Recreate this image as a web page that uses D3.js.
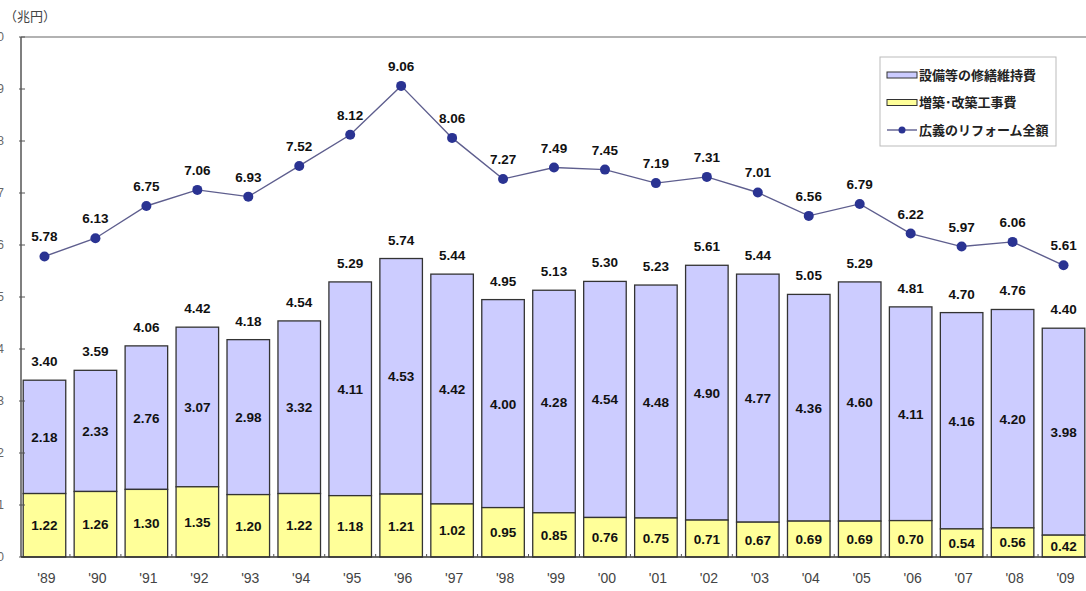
<!DOCTYPE html>
<html>
<head>
<meta charset="utf-8">
<script src="https://cdn.jsdelivr.net/npm/d3@7/dist/d3.min.js"></script>
<style>
  html, body { margin: 0; padding: 0; background: #fff; }
  svg { display: block; }
  text { font-family: "Liberation Sans", Arial, sans-serif; }
  .jp { font-family: "Noto Sans CJK JP", "Noto Sans", sans-serif; }
</style>
</head>
<body>
<svg id="chart" width="1086" height="591"></svg>
<script>
const years = ["'89","'90","'91","'92","'93","'94","'95","'96","'97","'98","'99","'00","'01","'02","'03","'04","'05","'06","'07","'08","'09"];
const extension = [1.22,1.26,1.30,1.35,1.20,1.22,1.18,1.21,1.02,0.95,0.85,0.76,0.75,0.71,0.67,0.69,0.69,0.70,0.54,0.56,0.42];
const repair = [2.18,2.33,2.76,3.07,2.98,3.32,4.11,4.53,4.42,4.00,4.28,4.54,4.48,4.90,4.77,4.36,4.60,4.11,4.16,4.20,3.98];
const totals = [3.40,3.59,4.06,4.42,4.18,4.54,5.29,5.74,5.44,4.95,5.13,5.30,5.23,5.61,5.44,5.05,5.29,4.81,4.70,4.76,4.40];
const broad = [5.78,6.13,6.75,7.06,6.93,7.52,8.12,9.06,8.06,7.27,7.49,7.45,7.19,7.31,7.01,6.56,6.79,6.22,5.97,6.06,5.61];
const yTicks = [0,1,2,3,4,5,6,7,8,9,10];
const unitLabel = "（兆円）";
const legendLabels = ["設備等の修繕維持費","増築･改築工事費","広義のリフォーム全額"];

const svg = d3.select("#chart");
const colRepair = "#ccccff", colExt = "#ffff99", lineCol = "#5e5e8e", dotCol = "#2a3392";

const x = d3.scaleBand().domain(years).range([19, 1089]).paddingInner(0.165).paddingOuter(0.0825);
const y = d3.scaleLinear().domain([0, 10]).range([557, 37]);
const axisX = 21;

// top frame line
svg.append("line").attr("x1", axisX).attr("x2", 1086).attr("y1", y(10)).attr("y2", y(10))
  .attr("stroke", "#999").attr("stroke-width", 1.5);

// unit label
svg.append("text").attr("class", "jp").attr("x", 4).attr("y", 21).attr("font-size", 13).attr("fill", "#444").text(unitLabel);

// y tick labels (clipped at the left edge, as in the original)
svg.append("g").selectAll("text").data(yTicks).join("text")
  .attr("x", 4).attr("y", d => y(d) + 4).attr("text-anchor", "end")
  .attr("font-size", 12).attr("fill", "#666").text(d => d);

// stacked bars
const g = svg.append("g");
years.forEach((yr, i) => {
  const bx = x(yr), bw = x.bandwidth();
  g.append("rect").attr("x", bx).attr("width", bw)
    .attr("y", y(totals[i])).attr("height", y(extension[i]) - y(totals[i]))
    .attr("fill", colRepair).attr("stroke", "#333").attr("stroke-width", 1.3);
  g.append("rect").attr("x", bx).attr("width", bw)
    .attr("y", y(extension[i])).attr("height", y(0) - y(extension[i]))
    .attr("fill", colExt).attr("stroke", "#333").attr("stroke-width", 1.3);
});

// y axis
svg.append("line").attr("x1", axisX).attr("x2", axisX).attr("y1", y(10)).attr("y2", y(0))
  .attr("stroke", "#555").attr("stroke-width", 1.5);
svg.append("g").selectAll("line").data(yTicks).join("line")
  .attr("x1", 19).attr("x2", 25).attr("y1", d => y(d)).attr("y2", d => y(d))
  .attr("stroke", "#555").attr("stroke-width", 1);
// x axis
svg.append("line").attr("x1", axisX).attr("x2", 1086).attr("y1", y(0)).attr("y2", y(0))
  .attr("stroke", "#333").attr("stroke-width", 1.5);
svg.append("g").selectAll("line").data(years.slice(1)).join("line")
  .attr("x1", d => x(d) - x.step() * 0.0825).attr("x2", d => x(d) - x.step() * 0.0825)
  .attr("y1", y(0) - 3).attr("y2", y(0)).attr("stroke", "#555").attr("stroke-width", 1);

// x labels
svg.append("g").selectAll("text").data(years).join("text")
  .attr("x", d => x(d) + x.bandwidth() / 2 + 2).attr("y", 583).attr("text-anchor", "middle")
  .attr("font-size", 14).attr("fill", "#444").text(d => d);

// bar labels
const lab = svg.append("g").attr("font-size", 13.5).attr("font-weight", "bold").attr("fill", "#111").attr("text-anchor", "middle");
years.forEach((yr, i) => {
  const cx = x(yr) + x.bandwidth() / 2;
  lab.append("text").attr("x", cx).attr("y", (y(0) + y(extension[i])) / 2 + 5).text(extension[i].toFixed(2));
  lab.append("text").attr("x", cx).attr("y", (y(extension[i]) + y(totals[i])) / 2 + 5).text(repair[i].toFixed(2));
  lab.append("text").attr("x", cx).attr("y", y(totals[i]) - 14).text(totals[i].toFixed(2));
});

// line
const line = d3.line().x((d, i) => x(years[i]) + x.bandwidth() / 2).y(d => y(d));
svg.append("path").datum(broad).attr("d", line).attr("fill", "none").attr("stroke", lineCol).attr("stroke-width", 1.4);
svg.append("g").selectAll("circle").data(broad).join("circle")
  .attr("cx", (d, i) => x(years[i]) + x.bandwidth() / 2).attr("cy", d => y(d)).attr("r", 5)
  .attr("fill", dotCol);
years.forEach((yr, i) => {
  lab.append("text").attr("x", x(yr) + x.bandwidth() / 2).attr("y", y(broad[i]) - 15).text(broad[i].toFixed(2));
});

// legend
const lg = svg.append("g");
lg.append("rect").attr("x", 880).attr("y", 57).attr("width", 176).attr("height", 89)
  .attr("fill", "#fff").attr("stroke", "#bbb").attr("stroke-width", 1);
const rows = [75, 102.5, 130];
[colRepair, colExt].forEach((c, i) => {
  lg.append("rect").attr("x", 887).attr("y", rows[i] - 3).attr("width", 30).attr("height", 6)
    .attr("fill", c).attr("stroke", "#333").attr("stroke-width", 1);
});
lg.append("line").attr("x1", 887).attr("x2", 917).attr("y1", rows[2]).attr("y2", rows[2]).attr("stroke", lineCol).attr("stroke-width", 1.4);
lg.append("circle").attr("cx", 902).attr("cy", rows[2]).attr("r", 3.5).attr("fill", dotCol);
legendLabels.forEach((t, i) => {
  lg.append("text").attr("class", "jp").attr("x", 919).attr("y", rows[i] + 4.5)
    .attr("font-size", 13).attr("font-weight", "bold").attr("fill", "#222").text(t);
});
</script>
</body>
</html>
